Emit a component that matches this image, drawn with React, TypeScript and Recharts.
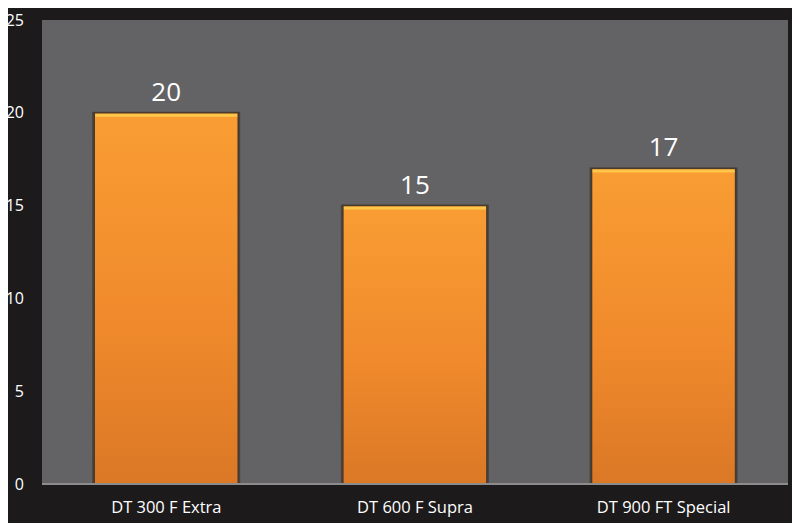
import { Bar, BarChart, CartesianGrid, LabelList, XAxis, YAxis } from "recharts";

const categories = ["DT 300 F Extra", "DT 600 F Supra", "DT 900 FT Special"];
const values = [20, 15, 17];
const yTicks = [0, 5, 10, 15, 20, 25];

const data = categories.map((name, i) => ({ name, value: values[i] }));

const FONT = "'Open Sans', sans-serif";

function OrangeBar(props: any) {
  const { x, y, width, height } = props;
  if (!height || height <= 0) return null;
  return (
    <g>
      <rect x={x - 2} y={y - 1} width={width + 4} height={height + 1} fill="#2e2a28" opacity={0.55} />
      <rect x={x} y={y} width={width} height={height} fill="url(#barFill)" stroke="#4a3a2c" strokeWidth={1.5} />
      <rect x={x + 1} y={y + 1} width={width - 2} height={3} fill="#fcc64a" />
    </g>
  );
}

export default function App() {
  return (
    <div style={{ margin: -8, width: 800, height: 531, background: "#1c1a1b" }}>
      <BarChart
        width={800}
        height={531}
        data={data}
        margin={{ top: 20, right: 12, left: 0, bottom: 0 }}
        barCategoryGap="21%"
      >
        <defs>
          <linearGradient id="barFill" x1="0" y1="0" x2="0" y2="1">
            <stop offset="0%" stopColor="#f99d33" />
            <stop offset="55%" stopColor="#f08a2c" />
            <stop offset="100%" stopColor="#db7826" />
          </linearGradient>
        </defs>
        <CartesianGrid fill="#636365" horizontal={false} vertical={false} stroke="none" />
        <XAxis
          dataKey="name"
          height={47}
          axisLine={{ stroke: "#8c8c8c", strokeWidth: 2 }}
          tickLine={false}
          tick={{ fill: "#ffffff", fontSize: 16.5, fontFamily: FONT }}
          tickMargin={11}
        />
        <YAxis
          width={42}
          domain={[0, 25]}
          ticks={yTicks}
          axisLine={false}
          tickLine={false}
          tick={{ fill: "#ffffff", fontSize: 16, fontFamily: FONT }}
          tickMargin={12}
        />
        <Bar dataKey="value" shape={<OrangeBar />} isAnimationActive={false}>
          <LabelList
            dataKey="value"
            position="top"
            offset={12}
            fill="#ffffff"
            fontSize={26}
            fontFamily={FONT}
          />
        </Bar>
      </BarChart>
    </div>
  );
}
